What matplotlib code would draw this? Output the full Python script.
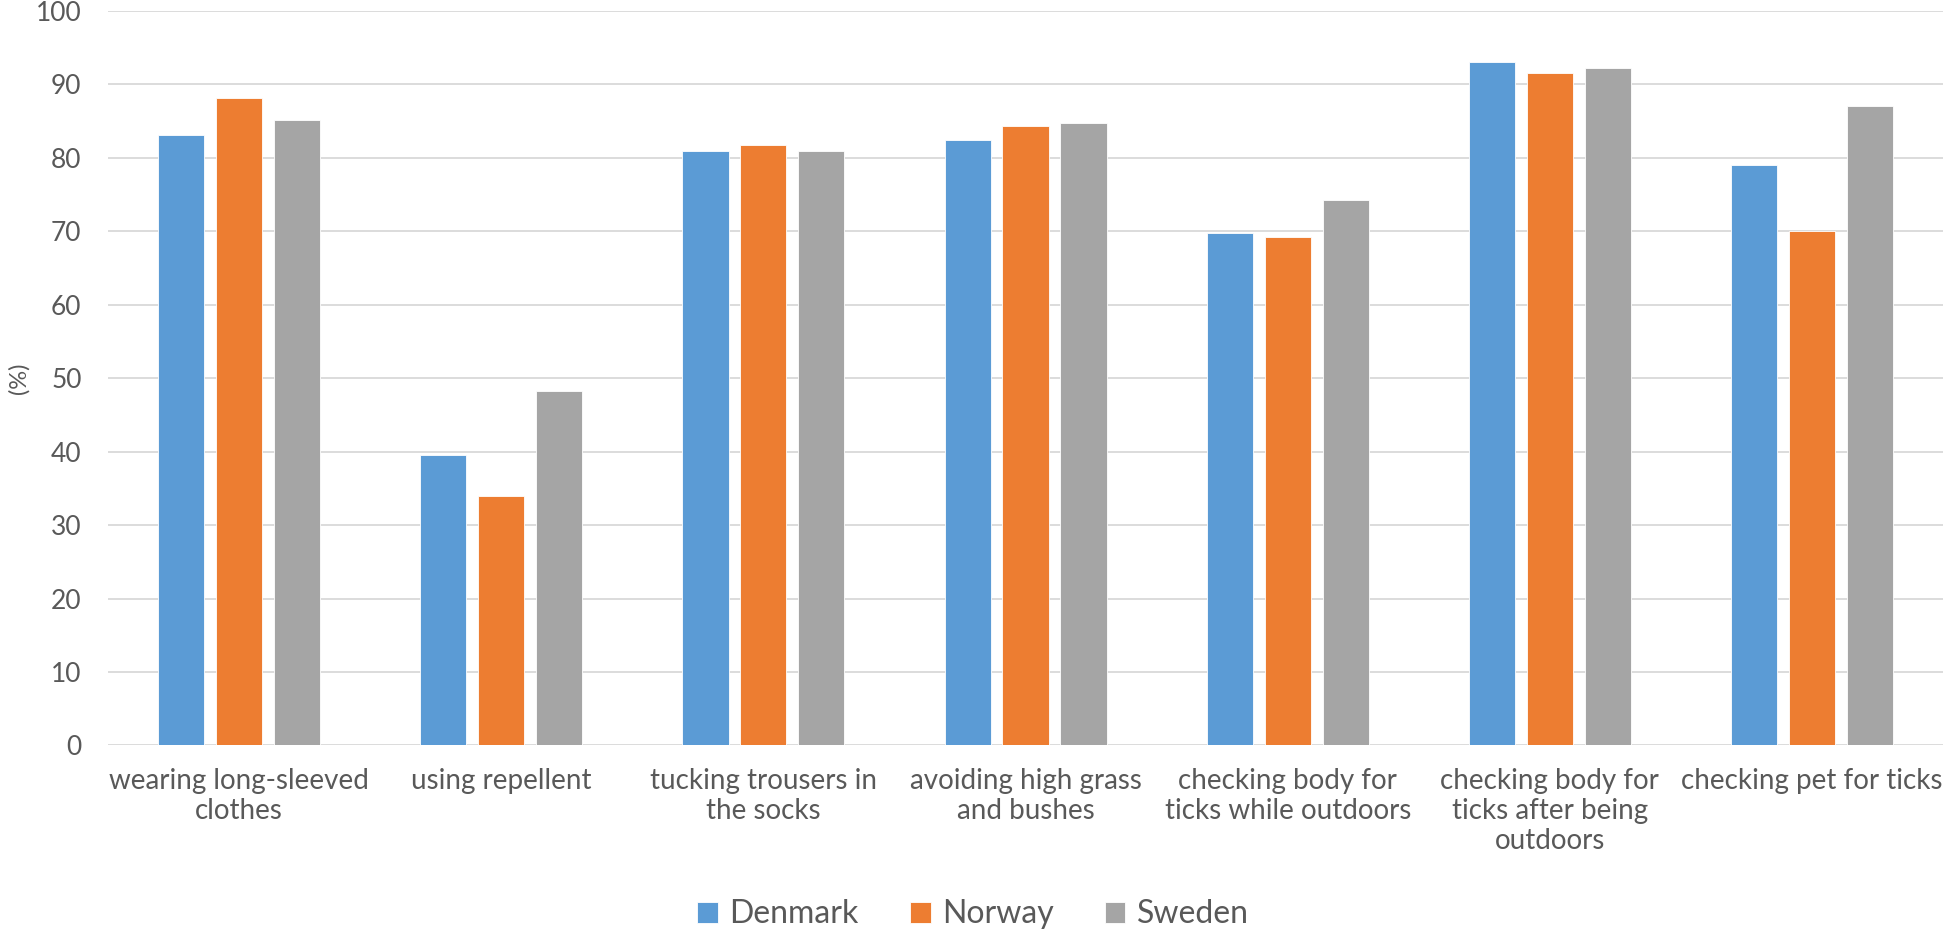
import matplotlib
matplotlib.use("Agg")
import matplotlib.pyplot as plt
import numpy as np

categories = ["wearing long-sleeved\nclothes", "using repellent",
              "tucking trousers in\nthe socks", "avoiding high grass\nand bushes",
              "checking body for\nticks while outdoors",
              "checking body for\nticks after being\noutdoors",
              "checking pet for ticks"]
countries = ["Denmark", "Norway", "Sweden"]
denmark = [83.1, 39.6, 81.0, 82.4, 69.8, 93.0, 79.0]
norway = [88.1, 34.0, 81.8, 84.4, 69.2, 91.6, 70.0]
sweden = [85.1, 48.2, 81.0, 84.7, 74.3, 92.2, 87.1]
colors = ["#5B9BD5", "#ED7D31", "#A5A5A5"]

plt.rcParams['font.family'] = ['Lato', 'DejaVu Sans']
txt = "#595959"

fig = plt.figure(figsize=(19.46, 9.35), dpi=100)
ax = fig.add_axes([0.0555, 0.2027, 0.943, 0.7855])

ind = np.arange(len(categories))
w = 0.176
step = 0.221
for i, (vals, name) in enumerate(zip([denmark, norway, sweden], countries)):
    ax.bar(ind + (i - 1) * step, vals, w, color=colors[i], label=name,
           edgecolor="white", linewidth=0.6, zorder=3)

ax.set_xlim(-0.5, len(categories) - 0.5)
ax.set_ylim(0, 100)
ax.set_yticks(np.arange(0, 101, 10))
ax.yaxis.grid(True, color="#D9D9D9", linewidth=1.3, zorder=0)
for s in ax.spines.values():
    s.set_visible(False)
ax.tick_params(axis="both", length=0, colors=txt, labelsize=19)
ax.tick_params(axis="x", labelsize=20, pad=16)
ax.tick_params(axis="y", pad=19)
ax.set_xticks(ind)
ax.set_xticklabels(categories, linespacing=1.2)
ax.set_ylabel("(%)", color=txt, fontsize=17)
ax.yaxis.set_label_coords(-0.043, 0.5)

fig.legend(loc="center", bbox_to_anchor=(0.5, 0.022), ncol=3, frameon=False,
           fontsize=23, labelcolor=txt, handlelength=0.65, handleheight=0.65,
           handletextpad=0.35, columnspacing=1.6)

fig.savefig("out.png", dpi=100)
